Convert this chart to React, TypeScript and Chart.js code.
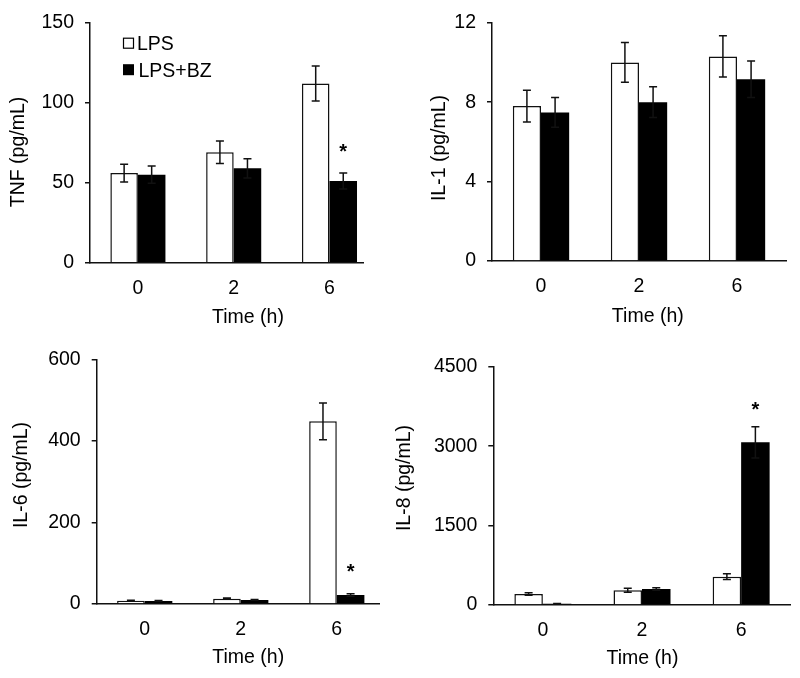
import React, { useEffect, useRef } from 'react';
import { Chart, registerables } from 'chart.js';

Chart.register(...registerables);
Chart.defaults.font.family = '"Liberation Sans", Arial, sans-serif';
Chart.defaults.color = '#000';

// ---- data ----
const timeLabels = ['0', '2', '6'];
const seriesNames = ['LPS', 'LPS+BZ'];

const tnfLps = [56, 69, 112];
const tnfLpsErr = [5.5, 7, 11];
const tnfBz = [55, 59, 51];
const tnfBzErr = [5.4, 6, 5];
const tnfStar = [null, null, 72.5];

const il1Lps = [7.8, 10.0, 10.3];
const il1LpsErr = [0.8, 1.0, 1.04];
const il1Bz = [7.48, 8.0, 9.15];
const il1BzErr = [0.75, 0.77, 0.92];
const il1Star = [null, null, null];

const il6Lps = [8, 13, 448];
const il6LpsErr = [1.5, 1.5, 45];
const il6Bz = [7.5, 10, 22];
const il6BzErr = [1, 1, 3];
const il6Star = [null, null, 93];

const il8Lps = [208, 277, 535];
const il8LpsErr = [25, 37, 55];
const il8Bz = [25, 302, 3072];
const il8BzErr = [5, 25, 295];
const il8Star = [null, null, 3796];

const yTitles = ['TNF (pg/mL)', 'IL-1 (pg/mL)', 'IL-6 (pg/mL)', 'IL-8 (pg/mL)'];
const yMaxes = [150, 12, 600, 4500];
const ySteps = [50, 4, 200, 1500];
const xTitle = 'Time (h)';

const W = 800;
const H = 678;
const X_H = 50;
const FS = 19.5;
const FONT = '"Liberation Sans", Arial, sans-serif';

type PanelCfg = {
  yTitle: string; yMax: number; yStep: number;
  lps: number[]; lpsErr: number[]; bz: number[]; bzErr: number[]; star: (number | null)[];
  left: number; right: number; top: number; bottom: number; xMax: number;
  yTitleX: number; yTitleY: number; xTitleX: number; xTitleY: number; legend: boolean;
};

const panels: PanelCfg[] = [
  { yTitle: yTitles[0], yMax: yMaxes[0], yStep: ySteps[0], lps: tnfLps, lpsErr: tnfLpsErr, bz: tnfBz, bzErr: tnfBzErr, star: tnfStar,
    left: 90, right: 363, top: 16, bottom: 262.7, xMax: 2.35, yTitleX: 18.3, yTitleY: 152, xTitleX: 248, xTitleY: 323.3, legend: true },
  { yTitle: yTitles[1], yMax: yMaxes[1], yStep: ySteps[1], lps: il1Lps, lpsErr: il1LpsErr, bz: il1Bz, bzErr: il1BzErr, star: il1Star,
    left: 492, right: 786, top: 20.7, bottom: 261, xMax: 2.5, yTitleX: 439.5, yTitleY: 148, xTitleX: 647.8, xTitleY: 321.7, legend: false },
  { yTitle: yTitles[2], yMax: yMaxes[2], yStep: ySteps[2], lps: il6Lps, lpsErr: il6LpsErr, bz: il6Bz, bzErr: il6BzErr, star: il6Star,
    left: 96.7, right: 380, top: 359.3, bottom: 604, xMax: 2.45, yTitleX: 21.7, yTitleY: 475, xTitleX: 248.2, xTitleY: 663.3, legend: false },
  { yTitle: yTitles[3], yMax: yMaxes[3], yStep: ySteps[3], lps: il8Lps, lpsErr: il8LpsErr, bz: il8Bz, bzErr: il8BzErr, star: il8Star,
    left: 493.3, right: 790.7, top: 366.7, bottom: 605, xMax: 2.5, yTitleX: 405, yTitleY: 478, xTitleX: 642.5, xTitleY: 664.3, legend: false },
];

function Panel({ p }: { p: PanelCfg }) {
  const ref = useRef<HTMLCanvasElement>(null);
  useEffect(() => {
    if (!ref.current) return;
    const overlay = {
      id: 'overlay',
      afterDatasetsDraw(chart: any) {
        const ctx = chart.ctx as CanvasRenderingContext2D;
        const ys = chart.scales.y;
        ctx.save();
        ctx.strokeStyle = '#111';
        ctx.lineWidth = 1.5;
        const sets = [[p.lps, p.lpsErr], [p.bz, p.bzErr]];
        sets.forEach(([vals, errs], di) => {
          const meta = chart.getDatasetMeta(di);
          meta.data.forEach((bar: any, i: number) => {
            const x = bar.x;
            const yHi = ys.getPixelForValue(vals[i] + errs[i]);
            const yLo = ys.getPixelForValue(vals[i] - errs[i]);
            ctx.beginPath();
            ctx.moveTo(x, yHi); ctx.lineTo(x, yLo);
            ctx.moveTo(x - 4, yHi); ctx.lineTo(x + 4, yHi);
            ctx.moveTo(x - 4, yLo); ctx.lineTo(x + 4, yLo);
            ctx.stroke();
          });
        });
        // significance stars
        const bzMeta = chart.getDatasetMeta(1);
        ctx.fillStyle = '#000';
        ctx.font = `bold 20px ${FONT}`;
        ctx.textAlign = 'center';
        ctx.textBaseline = 'alphabetic';
        p.star.forEach((s, i) => {
          if (s == null) return;
          const bar: any = bzMeta.data[i];
          ctx.fillText('*', bar.x, ys.getPixelForValue(s) + 11.7);
        });
        ctx.restore();
      },
      afterDraw(chart: any) {
        const ctx = chart.ctx as CanvasRenderingContext2D;
        const area = chart.chartArea;
        ctx.save();
        ctx.fillStyle = '#000';
        ctx.font = `${FS}px ${FONT}`;
        // y title
        ctx.save();
        ctx.translate(p.yTitleX, p.yTitleY);
        ctx.rotate(-Math.PI / 2);
        ctx.textAlign = 'center';
        ctx.textBaseline = 'middle';
        ctx.fillText(p.yTitle, 0, 0);
        ctx.restore();
        // x title
        ctx.textAlign = 'center';
        ctx.textBaseline = 'alphabetic';
        ctx.fillText(xTitle, p.xTitleX, p.xTitleY);
        // legend
        if (p.legend) {
          const bx = area.left + 33.5;
          const rows = [area.top + 15.5, area.top + 41.5];
          seriesNames.forEach((name, i) => {
            const y = rows[i];
            if (i === 0) {
              ctx.fillStyle = '#fff';
              ctx.fillRect(bx, y, 10, 10);
              ctx.strokeStyle = '#000';
              ctx.lineWidth = 1.2;
              ctx.strokeRect(bx, y, 10, 10);
            } else {
              ctx.fillStyle = '#000';
              ctx.fillRect(bx - 0.5, y, 11, 11);
            }
            ctx.fillStyle = '#000';
            ctx.textAlign = 'left';
            ctx.textBaseline = 'alphabetic';
            ctx.fillText(name, bx + 13.5 + i * 1.5, y + 11.5 + i * 1.5);
          });
        }
        ctx.restore();
      },
    };

    const chart = new Chart(ref.current, {
      type: 'bar',
      data: {
        datasets: [
          {
            label: seriesNames[0],
            data: p.lps.map((v, i) => ({ x: i, y: v })),
            backgroundColor: '#fff',
            borderColor: '#111',
            borderWidth: 1.5,
            borderSkipped: 'start',
            categoryPercentage: 0.575,
            barPercentage: 1,
          } as any,
          {
            label: seriesNames[1],
            data: p.bz.map((v, i) => ({ x: i, y: v })),
            backgroundColor: '#000',
            borderColor: '#000',
            borderWidth: 0,
            categoryPercentage: 0.575,
            barPercentage: 1,
          } as any,
        ],
      },
      options: {
        responsive: false,
        animation: false,
        devicePixelRatio: 1,
        events: [],
        layout: {
          autoPadding: false,
          padding: { left: 0, top: p.top, right: W - p.right, bottom: H - p.bottom - X_H },
        },
        plugins: { legend: { display: false }, tooltip: { enabled: false }, title: { display: false } },
        scales: {
          x: {
            type: 'linear',
            min: -0.5,
            max: p.xMax,
            offset: false,
            grid: { display: false, drawTicks: false },
            border: { display: true, color: '#111', width: 1.5 },
            afterBuildTicks: (s: any) => { s.ticks = timeLabels.map((_, i) => ({ value: i })); },
            afterFit: (s: any) => { s.height = X_H; },
            ticks: {
              callback: (v: any) => timeLabels[v] ?? '',
              padding: 14,
              font: { size: FS },
              color: '#000',
              maxRotation: 0,
              autoSkip: false,
            },
          },
          y: {
            type: 'linear',
            min: 0,
            max: p.yMax,
            grid: { drawOnChartArea: false, drawTicks: true, tickLength: 5, color: '#111', lineWidth: 1.5 },
            border: { display: true, color: '#111', width: 1.5 },
            afterFit: (s: any) => { s.width = p.left; },
            ticks: {
              stepSize: p.yStep,
              padding: 11,
              font: { size: FS },
              color: '#000',
              callback: (v: any) => String(v),
            },
          },
        },
      } as any,
      plugins: [overlay],
    });
    return () => chart.destroy();
  }, []);
  return (
    <canvas
      ref={ref}
      width={W}
      height={H}
      style={{ position: 'absolute', left: 0, top: 0, width: W, height: H }}
    />
  );
}

export default function App() {
  return (
    <div style={{ position: 'absolute', left: 0, top: 0, width: W, height: H, background: '#fff', overflow: 'hidden' }}>
      {panels.map((p, i) => (
        <Panel key={i} p={p} />
      ))}
    </div>
  );
}
